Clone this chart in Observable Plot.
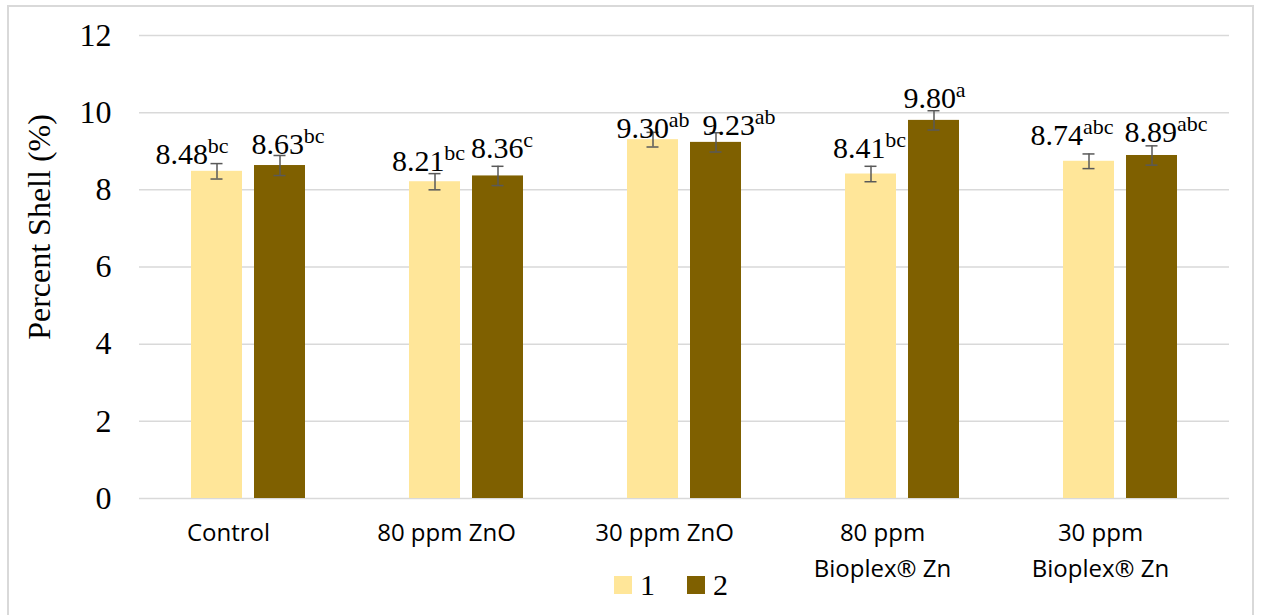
<!DOCTYPE html>
<html>
<head>
<meta charset="utf-8">
<script src="https://cdn.jsdelivr.net/npm/d3@7"></script>
<script src="https://cdn.jsdelivr.net/npm/@observablehq/plot@0.6"></script>
<style>
  html, body { margin: 0; padding: 0; background: #fff; }
  #wrap { position: relative; width: 1261px; height: 615px; overflow: hidden; background: #fff; }
  #border { position: absolute; left: 7px; top: 5px; width: 1247px; height: 640px; border: 2px solid #d9d9d9; box-sizing: border-box; }
  #chart { position: absolute; left: 0; top: 0; }
  #legend { position: absolute; left: 614px; top: 568px; display: flex; align-items: center;
            font-family: "Liberation Serif", "Times New Roman", serif; font-size: 30px; color: #000; }
  #legend .item { display: flex; align-items: center; margin-right: 32px; }
  #legend .sw { width: 18px; height: 18px; margin-right: 8px; }
</style>
</head>
<body>
<div id="wrap">
  <div id="border"></div>
  <div id="chart"></div>
  <div id="legend"></div>
</div>
<script>
// Treatments on the x axis, two series per treatment
const categories = ["Control", "80 ppm ZnO", "30 ppm ZnO", "80 ppm\nBioplex® Zn", "30 ppm\nBioplex® Zn"];
const series = ["1", "2"];
const colors = ["#FFE699", "#7F6000"];

// Mean percent shell per treatment
const values1 = [8.48, 8.21, 9.30, 8.41, 8.74];
const values2 = [8.63, 8.36, 9.23, 9.80, 8.89];

// Standard errors
const errors1 = [0.20, 0.21, 0.19, 0.20, 0.19];
const errors2 = [0.26, 0.25, 0.25, 0.25, 0.25];

// Significance letters
const letters1 = ["bc", "bc", "ab", "bc", "abc"];
const letters2 = ["bc", "c", "ab", "a", "abc"];

const yTicks = [0, 2, 4, 6, 8, 10, 12];
const yLabel = "Percent Shell (%)";

const rows = categories.flatMap((c, i) => [
  {cat: c, s: series[0], v: values1[i], e: errors1[i], l: letters1[i]},
  {cat: c, s: series[1], v: values2[i], e: errors2[i], l: letters2[i]}
]);

// Hand placement of each value label relative to its bar top (px): [dx, gap above bar]
const labelNudge = [
  [-25, 7], [8, 12],
  [-6.5, 11], [4, 18],
  [0, 2], [23, 7],
  [-1.5, 16], [0.5, 12],
  [-17, 16], [14, 13]
];

const fmt = d3.format(".2f");
const errColor = "#595959";

const valueLabels = rows.map((r, i) =>
  Plot.text([r], {
    fx: "cat", x: "s", y: "v",
    text: d => fmt(d.v) + "|" + d.l,
    lineAnchor: "bottom",
    dx: labelNudge[i][0],
    dy: -labelNudge[i][1],
    fill: "#000"
  })
);

const chart = Plot.plot({
  width: 1261,
  height: 615,
  marginLeft: 137,
  marginRight: 31,
  marginTop: 35,
  marginBottom: 117,
  style: {
    fontFamily: "'Liberation Serif', 'Times New Roman', serif",
    fontSize: "30px",
    color: "#000",
    background: "transparent",
    overflow: "visible"
  },
  fx: {domain: categories, padding: 0, axis: null},
  x: {domain: series, paddingInner: 0.19, paddingOuter: 0.81, axis: null},
  y: {domain: [0, 12]},
  color: {domain: series, range: colors},
  marks: [
    Plot.ruleY(yTicks, {y: d => d, stroke: "#d9d9d9", strokeWidth: 1.5}),
    Plot.barY(rows, {fx: "cat", x: "s", y: "v", fill: "s"}),
    Plot.ruleX(rows, {fx: "cat", x: "s", y1: d => d.v - d.e, y2: d => d.v + d.e, stroke: errColor, strokeWidth: 1.5}),
    Plot.tickY(rows, {fx: "cat", x: "s", y: d => d.v - d.e, insetLeft: 19.5, insetRight: 19.5, stroke: errColor, strokeWidth: 1.5}),
    Plot.tickY(rows, {fx: "cat", x: "s", y: d => d.v + d.e, insetLeft: 19.5, insetRight: 19.5, stroke: errColor, strokeWidth: 1.5}),
    ...valueLabels,
    Plot.axisY({ticks: yTicks, tickSize: 0, tickPadding: 28, label: null, fontSize: 32, tickFormat: d => String(d)}),
    Plot.text(categories, {fx: d => d, text: d => d, frameAnchor: "bottom", lineAnchor: "top", lineHeight: 1.5,
      dy: 17, dx: -20, fontFamily: "'Open Sans', sans-serif", fontSize: 24, fill: "#000"}),
    Plot.text([yLabel], {fx: () => categories[0], text: d => d, frameAnchor: "left", textAnchor: "middle",
      rotate: -90, dx: -100, dy: -40, fontSize: 32, fill: "#000"})
  ]
});

// Value labels: number followed by superscript significance letters
const ns = "http://www.w3.org/2000/svg";
chart.querySelectorAll("text").forEach(t => {
  const s = t.textContent;
  if (!s.includes("|")) return;
  const [num, sup] = s.split("|");
  t.textContent = "";
  const a = document.createElementNS(ns, "tspan");
  a.textContent = num;
  const b = document.createElementNS(ns, "tspan");
  b.textContent = sup;
  b.setAttribute("font-size", "22");
  b.setAttribute("dy", "-11");
  t.append(a, b);
});

document.getElementById("chart").append(chart);

// Legend
const legend = document.getElementById("legend");
series.forEach((s, i) => {
  const item = document.createElement("div");
  item.className = "item";
  const sw = document.createElement("div");
  sw.className = "sw";
  sw.style.background = colors[i];
  const label = document.createElement("span");
  label.textContent = s;
  item.append(sw, label);
  legend.append(item);
});
</script>
</body>
</html>
